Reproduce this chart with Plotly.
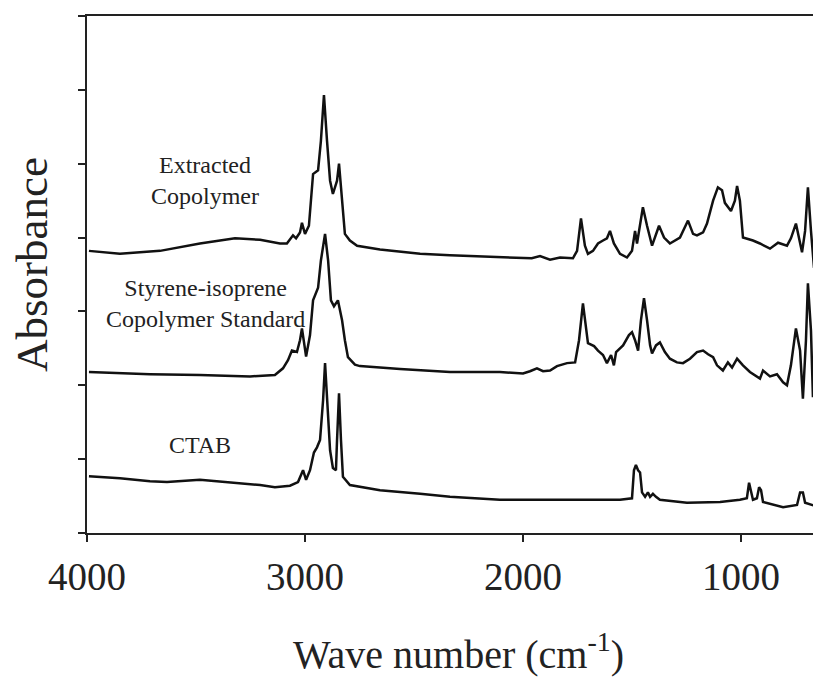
import plotly.graph_objects as go

# Wavenumbers (cm-1) and absorbance (offset-stacked, arbitrary units)
extracted_wn = [3991, 3849, 3665, 3482, 3321, 3206, 3115, 3083, 3055, 3041, 3023, 3014, 3000, 2982,
                2963, 2940, 2927, 2913, 2899, 2885, 2872, 2853, 2844, 2830, 2817, 2794, 2761, 2656,
                2472, 2335, 2106, 1960, 1922, 1876, 1830, 1771, 1752, 1734, 1716, 1702, 1679, 1656,
                1633, 1615, 1601, 1583, 1555, 1523, 1500, 1486, 1477, 1450, 1431, 1408, 1376, 1353,
                1326, 1280, 1243, 1220, 1202, 1174, 1156, 1128, 1106, 1087, 1074, 1046, 1028, 1018,
                1005, 991, 945, 913, 867, 830, 789, 771, 748, 720, 706, 693, 679, 665, 651, 633]
extracted_abs = [3.82, 3.78, 3.82, 3.92, 3.99, 3.97, 3.92, 3.92, 4.03, 3.99, 4.07, 4.20, 4.05, 4.16,
                 4.86, 4.91, 5.31, 5.93, 5.31, 4.77, 4.59, 4.77, 5.00, 4.50, 4.05, 3.96, 3.89, 3.84,
                 3.78, 3.76, 3.73, 3.72, 3.75, 3.70, 3.73, 3.72, 3.82, 4.26, 3.89, 3.78, 3.82, 3.92,
                 3.96, 3.99, 4.09, 3.92, 3.78, 3.73, 3.82, 4.09, 3.92, 4.41, 4.16, 3.89, 4.16, 4.00,
                 3.92, 4.00, 4.23, 4.05, 4.03, 4.07, 4.19, 4.50, 4.68, 4.64, 4.47, 4.36, 4.50, 4.70,
                 4.50, 4.00, 3.96, 3.92, 3.85, 3.93, 3.89, 3.99, 4.19, 3.80, 4.09, 4.68, 4.09, 3.59,
                 3.66, 3.66]

styrene_wn = [3991, 3711, 3482, 3252, 3138, 3101, 3078, 3060, 3037, 3023, 3014, 2995, 2977, 2963,
              2940, 2927, 2908, 2894, 2881, 2867, 2849, 2830, 2817, 2803, 2771, 2748, 2564, 2335,
              2106, 2000, 1968, 1936, 1908, 1876, 1844, 1798, 1761, 1743, 1725, 1711, 1702, 1674,
              1656, 1633, 1615, 1596, 1583, 1573, 1555, 1541, 1514, 1500, 1486, 1472, 1459, 1445,
              1431, 1417, 1408, 1390, 1372, 1349, 1326, 1294, 1266, 1234, 1202, 1174, 1151, 1128,
              1110, 1083, 1060, 1041, 1018, 991, 959, 913, 899, 867, 835, 807, 789, 771, 748, 729,
              716, 702, 693, 679, 670, 656, 647, 633]
styrene_abs = [2.18, 2.15, 2.14, 2.12, 2.14, 2.23, 2.34, 2.47, 2.45, 2.61, 2.77, 2.39, 2.68, 3.15,
               3.32, 3.69, 4.05, 3.69, 3.15, 3.07, 3.15, 2.88, 2.61, 2.38, 2.28, 2.26, 2.22, 2.18,
               2.18, 2.16, 2.19, 2.23, 2.19, 2.20, 2.26, 2.30, 2.31, 2.61, 3.11, 2.74, 2.57, 2.53,
               2.47, 2.41, 2.30, 2.41, 2.27, 2.45, 2.50, 2.54, 2.68, 2.72, 2.61, 2.47, 2.88, 3.18,
               2.88, 2.54, 2.43, 2.54, 2.58, 2.45, 2.36, 2.31, 2.30, 2.36, 2.45, 2.47, 2.42, 2.38,
               2.27, 2.20, 2.31, 2.24, 2.36, 2.27, 2.18, 2.09, 2.20, 2.12, 2.15, 2.04, 2.00, 2.27,
               2.77, 2.47, 1.82, 2.61, 3.38, 2.74, 1.84, 1.97, 1.86, 1.76]

ctab_wn = [3991, 3849, 3711, 3633, 3482, 3344, 3206, 3138, 3069, 3032, 3009, 2995, 2977, 2959,
           2945, 2931, 2917, 2908, 2899, 2885, 2872, 2858, 2853, 2844, 2835, 2826, 2794, 2656,
           2472, 2335, 2106, 1830, 1555, 1500, 1491, 1482, 1472, 1463, 1454, 1440, 1427, 1417,
           1404, 1390, 1372, 1248, 1096, 1005, 973, 963, 954, 945, 927, 917, 908, 899, 807, 743,
           729, 716, 706, 633]
ctab_abs = [0.77, 0.74, 0.70, 0.69, 0.72, 0.69, 0.65, 0.62, 0.64, 0.69, 0.85, 0.72, 0.85, 1.09,
            1.16, 1.26, 1.80, 2.30, 1.80, 1.12, 0.88, 0.85, 1.26, 1.89, 1.26, 0.76, 0.65, 0.58,
            0.53, 0.49, 0.45, 0.45, 0.45, 0.47, 0.85, 0.92, 0.85, 0.82, 0.55, 0.49, 0.55, 0.49,
            0.53, 0.49, 0.45, 0.41, 0.42, 0.45, 0.47, 0.68, 0.58, 0.45, 0.47, 0.62, 0.58, 0.42,
            0.35, 0.38, 0.55, 0.55, 0.41, 0.34]

x_ticks = [4000, 3000, 2000, 1000]
x_tick_labels = ["4000", "3000", "2000", "1000"]
y_ticks = [0, 1, 2, 3, 4, 5, 6, 7]

FONT = "Liberation Serif, Times New Roman, serif"
INK = "#222222"
line = dict(color="#111111", width=2.5)

fig = go.Figure()
for name, xs, ys in [("Extracted Copolymer", extracted_wn, extracted_abs),
                     ("Styrene-isoprene Copolymer Standard", styrene_wn, styrene_abs),
                     ("CTAB", ctab_wn, ctab_abs)]:
    fig.add_trace(go.Scatter(x=xs, y=ys, mode="lines", name=name, line=line,
                             showlegend=False, hoverinfo="skip"))

# page body has an 8px margin; the plot area spans screen x 87..821, y 16..533
fig.update_layout(
    width=813, height=673,
    margin=dict(l=79, r=0, t=8, b=148),
    paper_bgcolor="white", plot_bgcolor="white",
    font=dict(family=FONT, color=INK),
    showlegend=False,
)
fig.update_xaxes(
    range=[4000, 633], tickvals=x_ticks, ticktext=x_tick_labels,
    showgrid=False, zeroline=False,
    showline=True, linecolor=INK, linewidth=2, mirror=True,
    ticks="outside", ticklen=7, tickwidth=2, tickcolor=INK,
    tickfont=dict(family=FONT, size=39, color=INK),
    ticklabelstandoff=1,
)
fig.update_yaxes(
    range=[0, 7], tickvals=y_ticks, showticklabels=False,
    showgrid=False, zeroline=False,
    showline=True, linecolor=INK, linewidth=2,
    ticks="outside", ticklen=7, tickwidth=2, tickcolor=INK,
)


def px(X):
    return (X - 87) / 734


def py(Y):
    return (533 - Y) / 517


ann_font = dict(family=FONT, size=24, color=INK)
for text, X, Y in [("Extracted<br>Copolymer", 205, 180),
                   ("Styrene-isoprene<br>Copolymer Standard", 205, 303),
                   ("CTAB", 200, 445)]:
    fig.add_annotation(text=text, xref="paper", yref="paper", x=px(X), y=py(Y),
                       xanchor="center", yanchor="middle", showarrow=False,
                       font=ann_font, align="center")

# axis titles
fig.add_annotation(text="Wave number (cm<sup>-1</sup>)", xref="paper", yref="paper",
                   x=px(458), y=py(651), xanchor="center", yanchor="middle", showarrow=False,
                   font=dict(family=FONT, size=40, color=INK))
fig.add_annotation(text="Absorbance", xref="paper", yref="paper", textangle=-90,
                   x=px(32), y=py(265), xanchor="center", yanchor="middle", showarrow=False,
                   font=dict(family=FONT, size=45, color=INK))

fig.write_html("out.html")
